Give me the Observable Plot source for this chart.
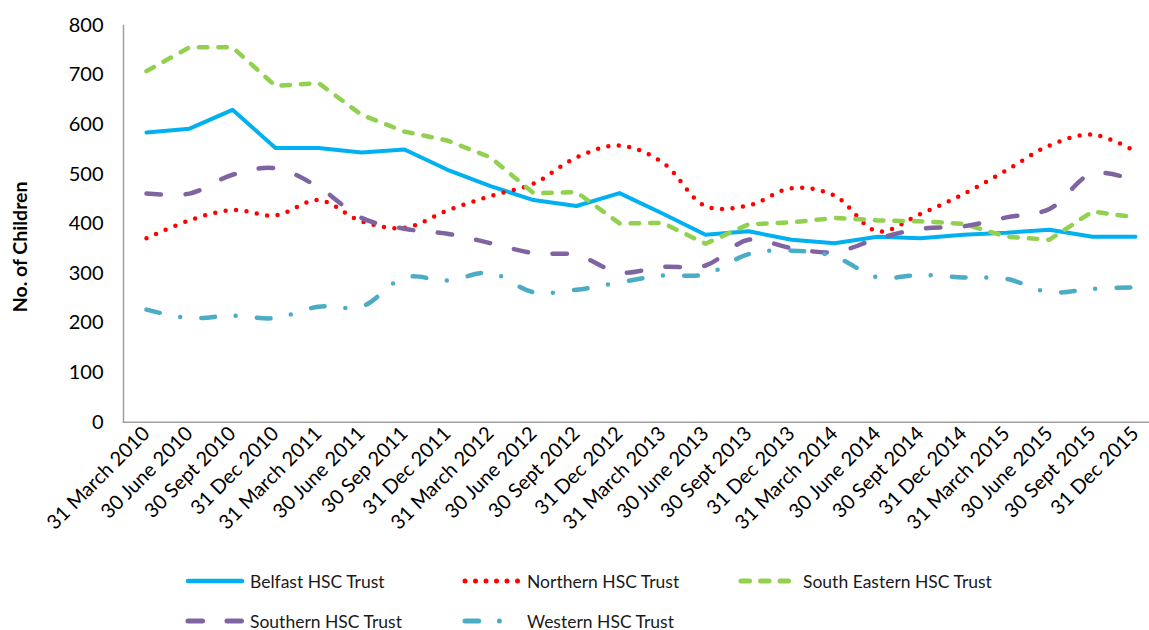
<!DOCTYPE html>
<html>
<head>
<meta charset="utf-8">
<script src="https://cdn.jsdelivr.net/npm/d3@7"></script>
<script src="https://cdn.jsdelivr.net/npm/@observablehq/plot@0.6"></script>
<style>
  body { margin: 0; background: #fff; font-family: Lato, sans-serif; }
  #chart { position: relative; width: 1149px; height: 630px; overflow: hidden; }
  #chart svg { display: block; }
  #legend { position: absolute; left: 185px; top: 561px; display: grid;
            grid-template-columns: 277px 276px 320px; grid-auto-rows: 40px; }
  .item { display: flex; align-items: center; gap: 5px; font-size: 17.5px; color: #1a1a1a; white-space: nowrap; }
</style>
</head>
<body>
<div id="chart"></div>
<script>
const quarters = ["31 March 2010","30 June 2010","30 Sept 2010","31 Dec 2010","31 March 2011","30 June 2011","30 Sep 2011","31 Dec 2011","31 March 2012","30 June 2012","30 Sept 2012","31 Dec 2012","31 March 2013","30 June 2013","30 Sept 2013","31 Dec 2013","31 March 2014","30 June 2014","30 Sept 2014","31 Dec 2014","31 March 2015","30 June 2015","30 Sept 2015","31 Dec 2015"];
const belfast     = [584, 592, 630, 553, 553, 544, 550, 509, 476, 448, 436, 462, 421, 378, 385, 368, 361, 374, 371, 378, 382, 388, 374, 374];
const northern    = [371, 407, 428, 417, 448, 405, 392, 427, 456, 481, 534, 558, 524, 436, 437, 472, 457, 385, 420, 460, 508, 558, 580, 546];
const southEast   = [708, 756, 756, 678, 684, 620, 586, 568, 534, 462, 464, 401, 402, 360, 399, 403, 412, 407, 405, 400, 374, 368, 425, 413];
const southern    = [461, 461, 499, 512, 474, 412, 390, 380, 361, 341, 337, 302, 313, 316, 368, 351, 343, 370, 390, 395, 413, 430, 502, 487];
const western     = [227, 210, 215, 210, 233, 233, 292, 286, 301, 262, 267, 282, 296, 298, 339, 346, 334, 292, 297, 292, 289, 262, 269, 272];
const seriesNames = ["Belfast HSC Trust","Northern HSC Trust","South Eastern HSC Trust","Southern HSC Trust","Western HSC Trust"];
const yTicks = [0, 100, 200, 300, 400, 500, 600, 700, 800];

const seriesValues = [belfast, northern, southEast, southern, western];
const styles = [
  {stroke: "#00B0F0", dash: null,               width: 4,   curve: "linear"},
  {stroke: "#FF0000", dash: "0 10.5",           width: 4.5, curve: "catmull-rom"},
  {stroke: "#92D050", dash: "8.5 11",           width: 4.5, curve: "linear"},
  {stroke: "#8064A2", dash: "14.5 24.5",        width: 4.5, curve: "catmull-rom"},
  {stroke: "#4BACC6", dash: "13.7 20.7 0 21.3", width: 4.5, curve: "catmull-rom"}
];
const tables = seriesNames.map((name, k) =>
  quarters.map((q, i) => ({series: name, quarter: q, value: seriesValues[k][i]})));

const H = 560;
const chart = Plot.plot({
  width: 1149,
  height: H,
  marginLeft: 123,
  marginRight: 0,
  marginTop: 25,
  marginBottom: H - 421.7,
  style: {fontFamily: "Lato, sans-serif", color: "#000", background: "#fff", overflow: "visible"},
  x: {type: "point", domain: quarters, range: [144.5, 1135.5], padding: 0},
  y: {domain: [0, 800]},
  marks: [
    Plot.frame({anchor: "left", stroke: "#a0a0a0", strokeWidth: 1.5}),
    Plot.frame({anchor: "bottom", stroke: "#a0a0a0", strokeWidth: 1.5}),
    Plot.axisY({ticks: yTicks, tickSize: 0, tickPadding: 20, fontSize: 20, label: null}),
    Plot.axisX({tickSize: 0, tickRotate: -45, tickPadding: 8, fontSize: 20, label: null}),
    Plot.text(["No. of Children"], {frameAnchor: "left", textAnchor: "middle", rotate: -90, dx: -103, dy: 23, fontSize: 19.5, fontWeight: "bold"}),
    ...tables.map((t, k) => Plot.lineY(t, {
      x: "quarter", y: "value",
      stroke: styles[k].stroke, strokeWidth: styles[k].width,
      strokeDasharray: styles[k].dash ?? undefined,
      strokeLinecap: "round", strokeLinejoin: "round",
      curve: styles[k].curve
    }))
  ]
});
const host = document.getElementById("chart");
host.appendChild(chart);

const legend = document.createElement("div");
legend.id = "legend";
seriesNames.forEach((name, k) => {
  const item = document.createElement("div");
  item.className = "item";
  const s = styles[k];
  item.innerHTML = `<svg width="60" height="10"><line x1="3" x2="57" y1="5" y2="5" stroke="${s.stroke}" stroke-width="${s.width + 0.5}" stroke-linecap="round" ${s.dash ? `stroke-dasharray="${s.dash}"` : ""}/></svg><span>${name}</span>`;
  legend.appendChild(item);
});
host.appendChild(legend);
</script>
</body>
</html>
